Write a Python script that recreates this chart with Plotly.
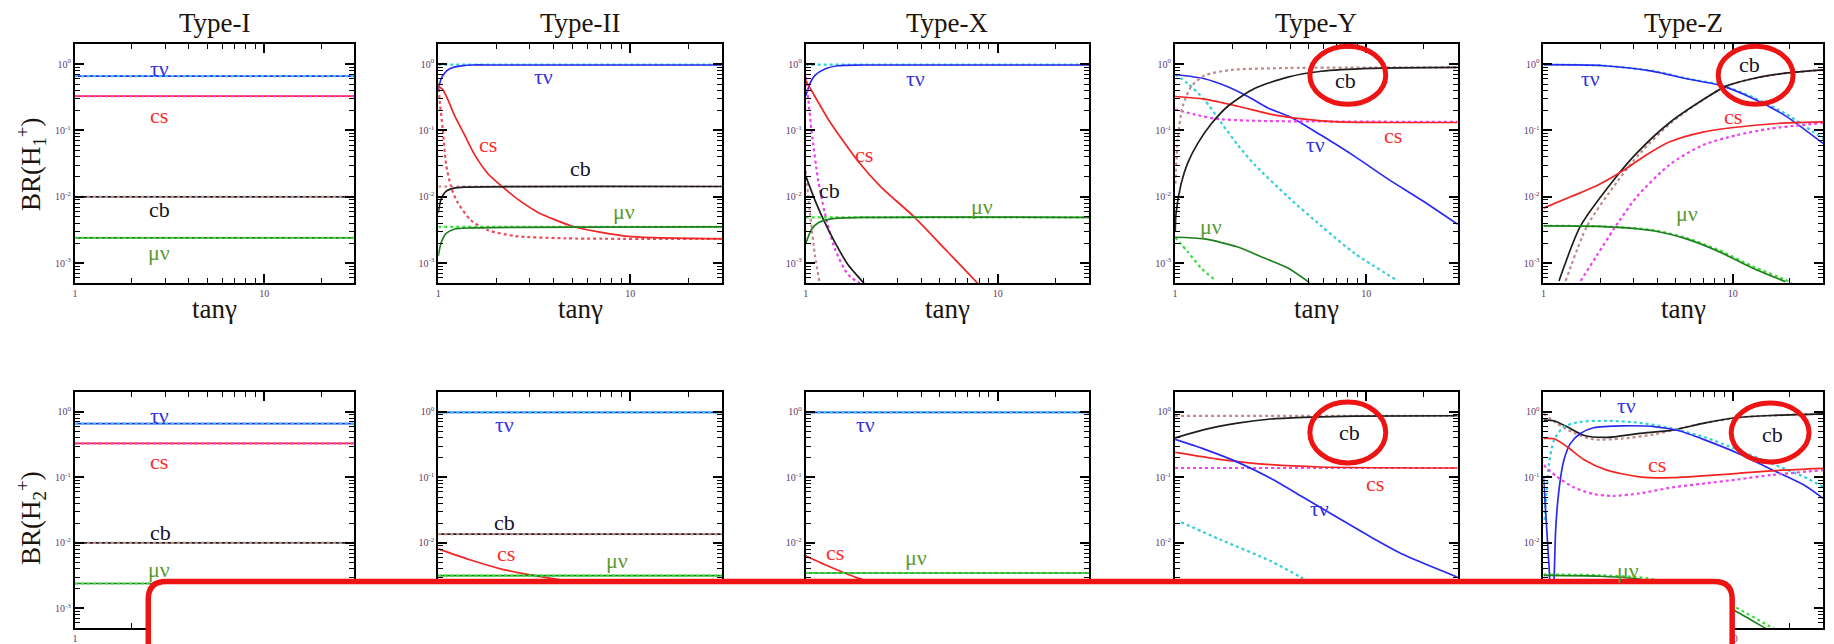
import math
import plotly.graph_objects as go

W, H = 1834, 644

# ---------------- categories / tick labels ----------------
TYPES = ["Type-I", "Type-II", "Type-X", "Type-Y", "Type-Z"]
ROW_TITLES = ["BR(H<sub>1</sub><sup>+</sup>)", "BR(H<sub>2</sub><sup>+</sup>)"]
X_TITLE = "tanγ"
Y_TICK_VALS = [1, 0.1, 0.01, 0.001]
Y_TICK_TEXT = ["10<sup>0</sup>", "10<sup>-1</sup>", "10<sup>-2</sup>", "10<sup>-3</sup>"]
X_TICK_VALS = [1, 10]
X_TICK_TEXT = ["1", "10"]

# ---------------- Type-I (both rows, constant) ----------------
T1_X = [1, 30]
T1_TAU = [0.66, 0.66]
T1_CS = [0.33, 0.33]
T1_CB = [0.0100, 0.0100]
T1_MU = [0.0024, 0.0024]

# ---------------- Type-II, H1+ ----------------
T2U_TAU_X = [1, 1.03, 1.075, 1.13, 1.21, 1.35, 1.5, 2, 30]
T2U_TAU_Y = [0.40, 0.58, 0.72, 0.83, 0.90, 0.95, 0.97, 0.97, 0.97]
T2U_TAUD_X = [1, 30]
T2U_TAUD_Y = [0.98, 0.98]
T2U_CS_X = [1, 1.054, 1.119, 1.213, 1.368, 1.54, 1.81, 2.17, 2.60, 3.31, 4.95, 6.83, 10.2, 30]
T2U_CS_Y = [0.466, 0.417, 0.297, 0.17, 0.0865, 0.044, 0.0225, 0.014, 0.00914, 0.00583, 0.00364, 0.00297, 0.00251, 0.00232]
T2U_CSD_X = [1, 1.02, 1.054, 1.097, 1.165, 1.262, 1.483, 1.81, 2.5, 4.57, 30]
T2U_CSD_Y = [0.52, 0.25, 0.108, 0.0315, 0.0143, 0.00817, 0.0044, 0.00315, 0.00257, 0.00237, 0.00232]
T2U_CB_X = [1, 1.033, 1.097, 1.21, 1.37, 30]
T2U_CB_Y = [0.0058, 0.0091, 0.0121, 0.0135, 0.0140, 0.0143]
T2U_CBD_X = [1, 30]
T2U_CBD_Y = [0.0143, 0.0143]
T2U_MU_X = [1, 1.033, 1.097, 1.21, 1.48, 30]
T2U_MU_Y = [0.00128, 0.0020, 0.0028, 0.00325, 0.0034, 0.00352]
T2U_MUD_X = [1, 30]
T2U_MUD_Y = [0.00352, 0.00352]

# ---------------- Type-II, H2+ ----------------
T2D_TAU_X = [1, 30]
T2D_TAU_Y = [0.98, 0.98]
T2D_CB_X = [1, 30]
T2D_CB_Y = [0.0136, 0.0136]
T2D_CS_X = [1, 1.446, 2.16, 4.1, 7.2, 30]
T2D_CS_Y = [0.0081, 0.00557, 0.00395, 0.0028, 0.0022, 0.0021]
T2D_MU_X = [1, 30]
T2D_MU_Y = [0.00316, 0.00316]

# ---------------- Type-X, H1+ ----------------
TXU_TAU_X = [1, 1.053, 1.117, 1.259, 1.475, 2.0, 30]
TXU_TAU_Y = [0.33, 0.51, 0.675, 0.845, 0.946, 0.97, 0.97]
TXU_TAUD_X = [1, 30]
TXU_TAUD_Y = [0.98, 0.98]
TXU_CS_X = [1, 1.117, 1.31, 1.535, 1.873, 2.47, 3.67, 5.47, 7.66, 8.8]
TXU_CS_Y = [0.57, 0.325, 0.148, 0.0755, 0.0344, 0.014, 0.0050, 0.0015, 0.00054, 0.00034]
TXU_CSD_X = [1, 1.032, 1.074, 1.163, 1.259, 1.418, 1.662, 2.07]
TXU_CSD_Y = [0.64, 0.29, 0.0946, 0.0175, 0.0057, 0.00166, 0.000676, 0.00043]
TXU_CB_X = [1, 1.117, 1.259, 1.418, 1.662, 2.03, 2.2]
TXU_CB_Y = [0.0207, 0.00894, 0.00407, 0.00207, 0.000946, 0.000482, 0.00035]
TXU_CBD_X = [1, 1.053, 1.117, 1.186]
TXU_CBD_Y = [0.0245, 0.0057, 0.00132, 0.00048]
TXU_MU_X = [1, 1.074, 1.163, 1.363, 2.03, 30]
TXU_MU_Y = [0.00196, 0.00325, 0.00407, 0.00466, 0.0049, 0.0049]
TXU_MUD_X = [1, 30]
TXU_MUD_Y = [0.0049, 0.0049]

# ---------------- Type-X, H2+ ----------------
TXD_TAU_X = [1, 30]
TXD_TAU_Y = [0.98, 0.98]
TXD_CS_X = [1, 1.363, 1.87, 3.0]
TXD_CS_Y = [0.0063, 0.0042, 0.0029, 0.0019]
TXD_MU_X = [1, 30]
TXD_MU_Y = [0.00347, 0.00347]

# ---------------- Type-Y, H1+ ----------------
TYU_TAU_X = [1, 1.424, 1.887, 2.40, 3.05, 4.05, 5.81, 8.69, 13.0, 19.4, 30]
TYU_TAU_Y = [0.698, 0.603, 0.456, 0.325, 0.219, 0.157, 0.0845, 0.0407, 0.0185, 0.00894, 0.00385]
TYU_TAUD_X = [1, 1.165, 1.424, 1.74, 2.13, 2.60, 3.89, 5.81, 8.69, 14.65]
TYU_TAUD_Y = [0.70, 0.51, 0.29, 0.132, 0.0603, 0.0307, 0.01, 0.00364, 0.0014, 0.00054]
TYU_CS_X = [1, 1.424, 2.13, 3.18, 4.75, 7.11, 30]
TYU_CS_Y = [0.325, 0.297, 0.232, 0.175, 0.148, 0.135, 0.132]
TYU_CSD_X = [1, 1.262, 1.607, 2.6, 30]
TYU_CSD_Y = [0.207, 0.175, 0.151, 0.14, 0.135]
TYU_CB_X = [1.002, 1.012, 1.075, 1.165, 1.314, 1.543, 1.887, 2.60, 3.89, 5.81, 10.6, 30]
TYU_CB_Y = [0.003, 0.0057, 0.0157, 0.0325, 0.0638, 0.125, 0.232, 0.43, 0.638, 0.781, 0.865, 0.894]
TYU_CBD_X = [1.004, 1.033, 1.097, 1.213, 1.424, 1.965, 3.89, 30]
TYU_CBD_Y = [0.0157, 0.0755, 0.232, 0.456, 0.675, 0.817, 0.874, 0.894]
TYU_MU_X = [1, 1.424, 2.13, 2.82, 3.89, 5.04]
TYU_MU_Y = [0.00246, 0.00232, 0.00175, 0.00125, 0.000845, 0.00051]
TYU_MUD_X = [1, 1.165, 1.368, 1.64]
TYU_MUD_Y = [0.00246, 0.00148, 0.000845, 0.00054]

# ---------------- Type-Y, H2+ ----------------
TYD_CB_X = [1, 1.42, 2.12, 3.16, 4.72, 8.59, 30]
TYD_CB_Y = [0.40, 0.534, 0.671, 0.778, 0.824, 0.862, 0.872]
TYD_CBD_X = [1, 30]
TYD_CBD_Y = [0.87, 0.87]
TYD_CS_X = [1, 1.74, 3.16, 5.76, 30]
TYD_CS_Y = [0.24, 0.187, 0.156, 0.144, 0.139]
TYD_CSD_X = [1, 30]
TYD_CSD_Y = [0.139, 0.139]
TYD_TAU_X = [1, 1.42, 2.12, 3.16, 4.72, 7.03, 10.5, 15.6, 30]
TYD_TAU_Y = [0.38, 0.27, 0.171, 0.0967, 0.0488, 0.0246, 0.0124, 0.00663, 0.00299]
TYD_TAUD_X = [1.075, 1.74, 3.16, 4.53, 8]
TYD_TAUD_Y = [0.0207, 0.0111, 0.00528, 0.0030, 0.0012]

# ---------------- Type-Z, H1+ ----------------
TZU_TAU_X = [1, 2.08, 3.80, 5.69, 8.51, 12.7, 19.0, 30]
TZU_TAU_Y = [0.98, 0.946, 0.78, 0.603, 0.482, 0.307, 0.166, 0.0638]
TZU_TAUD_X = [1, 2.08, 3.80, 5.69, 8.51, 12.7, 19.0, 30]
TZU_TAUD_Y = [0.98, 0.95, 0.79, 0.61, 0.49, 0.32, 0.18, 0.0755]
TZU_CB_X = [1.208, 1.57, 2.30, 3.11, 4.65, 6.96, 9.23, 12.7, 19.0, 30]
TZU_CB_Y = [0.00054, 0.00364, 0.0166, 0.0456, 0.132, 0.29, 0.466, 0.603, 0.73, 0.817]
TZU_CBD_X = [1.31, 1.70, 2.44, 3.24, 4.74, 6.96, 9.23, 12.7, 19.0, 30]
TZU_CBD_Y = [0.00054, 0.00364, 0.0166, 0.0456, 0.132, 0.29, 0.466, 0.603, 0.73, 0.817]
TZU_CS_X = [1, 1.391, 1.92, 2.54, 3.51, 4.65, 6.96, 10.4, 19.0, 30]
TZU_CS_Y = [0.00676, 0.01, 0.0148, 0.0232, 0.0431, 0.0675, 0.0946, 0.112, 0.13, 0.135]
TZU_CSD_X = [1.57, 1.92, 2.35, 3.11, 4.65, 6.96, 10.4, 15.6, 30]
TZU_CSD_Y = [0.00054, 0.00132, 0.00325, 0.01, 0.0307, 0.0603, 0.0845, 0.106, 0.13]
TZU_MU_X = [1, 2.08, 3.80, 5.69, 8.51, 12.7, 19.0]
TZU_MU_Y = [0.00364, 0.00356, 0.00308, 0.00232, 0.00148, 0.000845, 0.000527]
TZU_MUD_X = [1, 2.08, 3.80, 5.69, 8.51, 12.7, 19.0, 20.5]
TZU_MUD_Y = [0.00364, 0.00358, 0.00315, 0.0024, 0.00156, 0.0009, 0.00056, 0.0005]

# ---------------- Type-Z, H2+ ----------------
TZD_CB_X = [1, 1.137, 1.334, 1.63, 2.16, 3.22, 4.8, 7.17, 10.7, 16.0, 30]
TZD_CB_Y = [0.746, 0.73, 0.59, 0.44, 0.407, 0.468, 0.526, 0.68, 0.82, 0.88, 0.93]
TZD_CBD_X = [1, 1.18, 1.445, 1.84, 2.63, 3.93, 4.8, 7.17, 10.7, 16.0, 30]
TZD_CBD_Y = [0.94, 0.664, 0.479, 0.379, 0.392, 0.457, 0.526, 0.68, 0.82, 0.88, 0.93]
TZD_TAU_X = [1, 1.028, 1.07, 1.105, 1.137, 1.16, 1.207, 1.282, 1.389, 1.566, 1.838, 2.63, 3.93, 5.2, 7.17, 10.7, 16.0, 23.8, 30]
TZD_TAU_Y = [0.102, 0.0283, 0.00436, 0.00085, 0.00273, 0.0158, 0.0641, 0.184, 0.33, 0.468, 0.571, 0.612, 0.591, 0.514, 0.37, 0.232, 0.132, 0.0764, 0.0479]
TZD_TAUD_X = [1.008, 1.041, 1.07, 1.137, 1.282, 1.566, 2.16, 3.22, 4.8, 7.17, 10.7, 16.0, 23.8, 30]
TZD_TAUD_Y = [0.0224, 0.064, 0.163, 0.37, 0.591, 0.704, 0.73, 0.68, 0.557, 0.407, 0.261, 0.163, 0.102, 0.072]
TZD_CS_X = [1, 1.137, 1.334, 1.63, 2.16, 3.22, 4.8, 7.17, 10.7, 16.0, 30]
TZD_CS_Y = [0.393, 0.388, 0.293, 0.188, 0.129, 0.102, 0.0988, 0.106, 0.115, 0.126, 0.137]
TZD_CSD_X = [1, 1.18, 1.445, 1.838, 2.34, 3.22, 4.8, 7.17, 10.7, 16.0, 30]
TZD_CSD_Y = [0.154, 0.102, 0.0704, 0.0557, 0.052, 0.057, 0.0704, 0.081, 0.0933, 0.1086, 0.129]
TZD_MU_X = [1, 2.0, 3.5, 5.5, 7.5, 10.1, 15.4, 20]
TZD_MU_Y = [0.0032, 0.0031, 0.0027, 0.0019, 0.0014, 0.00095, 0.00047, 0.0003]
TZD_MUD_X = [1, 2.0, 3.5, 5.5, 7.5, 10.1, 15.4, 20]
TZD_MUD_Y = [0.0033, 0.0032, 0.0029, 0.0021, 0.0016, 0.00108, 0.00055, 0.00036]

# (panel, kind, x, y); panels 1-5 top row, 6-10 bottom row
SERIES = [
    (1, "tau", T1_X, T1_TAU), (1, "taud", T1_X, T1_TAU),
    (1, "cs", T1_X, T1_CS), (1, "csd", T1_X, T1_CS),
    (1, "cb", T1_X, T1_CB), (1, "cbd", T1_X, T1_CB),
    (1, "mu", T1_X, T1_MU), (1, "mud", T1_X, T1_MU),
    (6, "tau", T1_X, T1_TAU), (6, "taud", T1_X, T1_TAU),
    (6, "cs", T1_X, T1_CS), (6, "csd", T1_X, T1_CS),
    (6, "cb", T1_X, T1_CB), (6, "cbd", T1_X, T1_CB),
    (6, "mu", T1_X, T1_MU), (6, "mud", T1_X, T1_MU),

    (2, "taud", T2U_TAUD_X, T2U_TAUD_Y), (2, "tau", T2U_TAU_X, T2U_TAU_Y),
    (2, "csd2", T2U_CSD_X, T2U_CSD_Y), (2, "cs", T2U_CS_X, T2U_CS_Y),
    (2, "cbd", T2U_CBD_X, T2U_CBD_Y), (2, "cb", T2U_CB_X, T2U_CB_Y),
    (2, "mud", T2U_MUD_X, T2U_MUD_Y), (2, "mu", T2U_MU_X, T2U_MU_Y),
    (7, "tau", T2D_TAU_X, T2D_TAU_Y), (7, "taud", T2D_TAU_X, T2D_TAU_Y),
    (7, "cb", T2D_CB_X, T2D_CB_Y), (7, "cbd", T2D_CB_X, T2D_CB_Y),
    (7, "cs", T2D_CS_X, T2D_CS_Y),
    (7, "mu", T2D_MU_X, T2D_MU_Y), (7, "mud", T2D_MU_X, T2D_MU_Y),

    (3, "taud", TXU_TAUD_X, TXU_TAUD_Y), (3, "tau", TXU_TAU_X, TXU_TAU_Y),
    (3, "csd", TXU_CSD_X, TXU_CSD_Y), (3, "cs", TXU_CS_X, TXU_CS_Y),
    (3, "cbd", TXU_CBD_X, TXU_CBD_Y), (3, "cb", TXU_CB_X, TXU_CB_Y),
    (3, "mud", TXU_MUD_X, TXU_MUD_Y), (3, "mu", TXU_MU_X, TXU_MU_Y),
    (8, "tau", TXD_TAU_X, TXD_TAU_Y), (8, "taud", TXD_TAU_X, TXD_TAU_Y),
    (8, "cs", TXD_CS_X, TXD_CS_Y),
    (8, "mu", TXD_MU_X, TXD_MU_Y), (8, "mud", TXD_MU_X, TXD_MU_Y),

    (4, "taud", TYU_TAUD_X, TYU_TAUD_Y), (4, "tau", TYU_TAU_X, TYU_TAU_Y),
    (4, "csd", TYU_CSD_X, TYU_CSD_Y), (4, "cs", TYU_CS_X, TYU_CS_Y),
    (4, "cbd", TYU_CBD_X, TYU_CBD_Y), (4, "cb", TYU_CB_X, TYU_CB_Y),
    (4, "mud", TYU_MUD_X, TYU_MUD_Y), (4, "mu", TYU_MU_X, TYU_MU_Y),
    (9, "cbd", TYD_CBD_X, TYD_CBD_Y), (9, "cb", TYD_CB_X, TYD_CB_Y),
    (9, "csd", TYD_CSD_X, TYD_CSD_Y), (9, "cs", TYD_CS_X, TYD_CS_Y),
    (9, "taud", TYD_TAUD_X, TYD_TAUD_Y), (9, "tau", TYD_TAU_X, TYD_TAU_Y),

    (5, "taud", TZU_TAUD_X, TZU_TAUD_Y), (5, "tau", TZU_TAU_X, TZU_TAU_Y),
    (5, "cbd", TZU_CBD_X, TZU_CBD_Y), (5, "cb", TZU_CB_X, TZU_CB_Y),
    (5, "csd", TZU_CSD_X, TZU_CSD_Y), (5, "cs", TZU_CS_X, TZU_CS_Y),
    (5, "mud", TZU_MUD_X, TZU_MUD_Y), (5, "mu", TZU_MU_X, TZU_MU_Y),
    (10, "cbd", TZD_CBD_X, TZD_CBD_Y), (10, "cb", TZD_CB_X, TZD_CB_Y),
    (10, "taud", TZD_TAUD_X, TZD_TAUD_Y), (10, "tau", TZD_TAU_X, TZD_TAU_Y),
    (10, "csd", TZD_CSD_X, TZD_CSD_Y), (10, "cs", TZD_CS_X, TZD_CS_Y),
    (10, "mud", TZD_MUD_X, TZD_MUD_Y), (10, "mu", TZD_MU_X, TZD_MU_Y),
]

# channel label texts
LABEL_TEXT = {"tau": "τν", "cs": "cs", "cb": "cb", "mu": "μν"}
# label placements (panel, channel, log10 x, log10 y)
LABELS = [
    (1, "tau", 0.447, -0.07), (1, "cs", 0.447, -0.77), (1, "cb", 0.447, -2.19), (1, "mu", 0.447, -2.84),
    (2, "tau", 0.547, -0.18), (2, "cs", 0.258, -1.21), (2, "cb", 0.742, -1.58), (2, "mu", 0.968, -2.22),
    (3, "tau", 0.574, -0.22), (3, "cs", 0.305, -1.36), (3, "cb", 0.126, -1.90), (3, "mu", 0.916, -2.15),
    (4, "cb", 0.889, -0.25), (4, "cs", 1.137, -1.07), (4, "tau", 0.732, -1.21), (4, "mu", 0.19, -2.44),
    (5, "tau", 0.247, -0.22), (5, "cb", 1.09, 0.0), (5, "cs", 1.0, -0.79), (5, "mu", 0.758, -2.25),
    (6, "tau", 0.447, -0.06), (6, "cs", 0.447, -0.76), (6, "cb", 0.453, -1.84), (6, "mu", 0.447, -2.41),
    (7, "tau", 0.347, -0.19), (7, "cb", 0.347, -1.69), (7, "cs", 0.352, -2.16), (7, "mu", 0.93, -2.27),
    (8, "tau", 0.31, -0.19), (8, "cs", 0.153, -2.14), (8, "mu", 0.574, -2.23),
    (9, "cb", 0.91, -0.32), (9, "cs", 1.047, -1.10), (9, "tau", 0.753, -1.47),
    (10, "tau", 0.44, 0.09), (10, "cs", 0.6, -0.81), (10, "cb", 1.21, -0.34), (10, "mu", 0.447, -2.42),
]

# ---------------- styling ----------------
LINE_STYLE = {
    "tau": dict(color="#2a2af2", width=1.7, dash="solid"),
    "taud": dict(color="#30d0d8", width=2.2, dash="dot"),
    "cs": dict(color="#f22424", width=1.7, dash="solid"),
    "csd": dict(color="#f040f0", width=2.2, dash="dot"),
    "csd2": dict(color="#f04a5a", width=2.2, dash="dot"),
    "cb": dict(color="#1e1e1e", width=1.7, dash="solid"),
    "cbd": dict(color="#c08a8a", width=2.2, dash="dot"),
    "mu": dict(color="#1f7f1f", width=1.7, dash="solid"),
    "mud": dict(color="#36e036", width=2.2, dash="dot"),
}
LABEL_COLOR = {"tau": "#3434e0", "cs": "#ff2a2a", "cb": "#141428", "mu": "#5a9a30"}
SERIF = "Liberation Serif"

PANEL_X = [(72, 352), (436, 720), (804, 1088), (1174, 1457), (1543, 1823)]
ROW_Y = [(45, 288), (399, 639)]
X_RANGE = [0, math.log10(30)]
Y_RANGE = [-3.3, 0.3]

Y_MINOR = [m * 10 ** e for e in range(-4, 1) for m in range(2, 10)]
X_MINOR = [2, 3, 4, 5, 6, 7, 8, 9, 20, 30]

fig = go.Figure()

for panel, kind, xs, ys in SERIES:
    sty = LINE_STYLE[kind]
    fig.add_trace(go.Scatter(
        x=xs, y=ys, mode="lines", line_shape="spline",
        line=dict(color=sty["color"], width=sty["width"], dash=sty["dash"], smoothing=0.7),
        xaxis=f"x{panel}", yaxis=f"y{panel}", showlegend=False, hoverinfo="skip",
    ))

layout = dict(
    width=W, height=H, margin=dict(l=0, r=0, t=0, b=0),
    paper_bgcolor="white", plot_bgcolor="white", showlegend=False,
)

tickfont = dict(family=SERIF, size=10, color="#5c3a6c")
for r in range(2):
    for c in range(5):
        p = r * 5 + c + 1
        x0, x1 = PANEL_X[c]
        yt, yb = ROW_Y[r]
        layout[f"xaxis{p}"] = dict(
            type="log", range=X_RANGE, domain=[x0 / W, x1 / W], anchor=f"y{p}",
            showline=True, linecolor="black", linewidth=2, mirror="allticks",
            ticks="inside", ticklen=9, tickwidth=1.5, tickcolor="black",
            tickmode="array", tickvals=X_TICK_VALS, ticktext=X_TICK_TEXT,
            tickfont=tickfont, showgrid=False, zeroline=False,
            minor=dict(tickmode="array", tickvals=X_MINOR, ticks="inside",
                       ticklen=5, tickwidth=1.2, tickcolor="black", showgrid=False),
        )
        layout[f"yaxis{p}"] = dict(
            type="log", range=Y_RANGE, domain=[1 - yb / H, 1 - yt / H], anchor=f"x{p}",
            showline=True, linecolor="black", linewidth=2, mirror="allticks",
            ticks="inside", ticklen=9, tickwidth=2, tickcolor="black",
            tickmode="array", tickvals=Y_TICK_VALS, ticktext=Y_TICK_TEXT,
            tickfont=tickfont, showgrid=False, zeroline=False,
            minor=dict(tickmode="array", tickvals=Y_MINOR, ticks="inside",
                       ticklen=5, tickwidth=1.2, tickcolor="black", showgrid=False),
        )

annotations = []
# panel titles and x titles (top row)
for c, name in enumerate(TYPES):
    x0, x1 = PANEL_X[c]
    cx = (x0 + x1) / 2 / W
    annotations.append(dict(text=name, x=cx, y=1 - 23 / H, xref="paper", yref="paper",
                            showarrow=False, xanchor="center", yanchor="middle",
                            font=dict(family=SERIF, size=27, color="#1c140e")))
    annotations.append(dict(text=X_TITLE, x=cx, y=1 - 314 / H, xref="paper", yref="paper",
                            showarrow=False, xanchor="center", yanchor="middle",
                            font=dict(family=SERIF, size=27, color="#1c140e")))
# row titles
for r, txt in enumerate(ROW_TITLES):
    cy = [167, 527][r]
    annotations.append(dict(text=txt, x=28 / W, y=1 - cy / H, xref="paper", yref="paper",
                            showarrow=False, textangle=-90, xanchor="center", yanchor="middle",
                            font=dict(family=SERIF, size=27, color="#1c140e")))
# channel labels
for panel, ch, lx, ly in LABELS:
    annotations.append(dict(text=LABEL_TEXT[ch], x=lx, y=ly, xref=f"x{panel}", yref=f"y{panel}",
                            showarrow=False, xanchor="center", yanchor="middle",
                            font=dict(family=SERIF, size=22, color=LABEL_COLOR[ch])))
layout["annotations"] = annotations

# overlay: red circles and white rounded box
RED = "#ee1414"
shapes = []
for (ex0, ex1, ey0, ey1) in [(1309, 1385, 47, 106), (1718, 1793, 47, 106),
                             (1309, 1385, 409, 471), (1731, 1809, 410, 470)]:
    shapes.append(dict(type="circle", xref="paper", yref="paper",
                       x0=ex0 / W, x1=ex1 / W, y0=1 - ey1 / H, y1=1 - ey0 / H,
                       line=dict(color=RED, width=5), fillcolor="rgba(0,0,0,0)", layer="above"))
L, R, T, B = 145.5 / W, 1732 / W, 1 - 591.5 / H, -0.5
rx, ry = 18 / W, 18 / H
path = (f"M {L},{B} L {L},{T - ry} Q {L},{T} {L + rx},{T} "
        f"L {R - rx},{T} Q {R},{T} {R},{T - ry} L {R},{B} Z")
shapes.append(dict(type="path", path=path, xref="paper", yref="paper",
                   fillcolor="white", line=dict(color=RED, width=5.5), layer="above"))
layout["shapes"] = shapes

fig.update_layout(**layout)
fig.write_html("out.html")
